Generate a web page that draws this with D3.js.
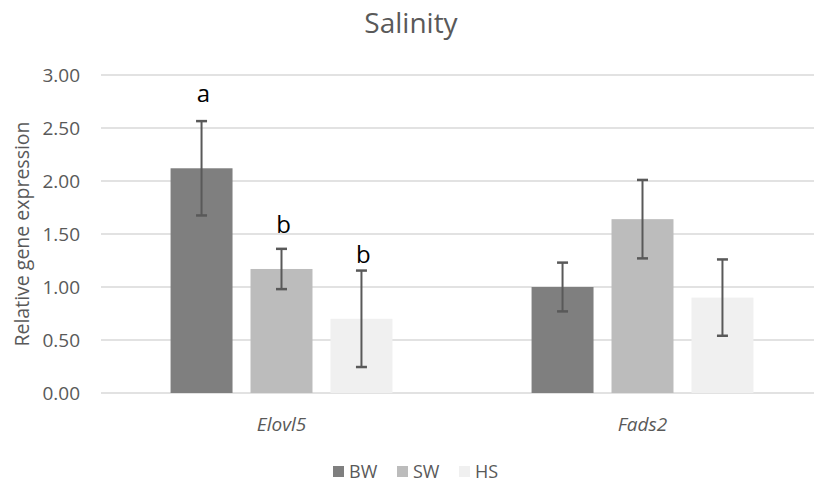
<!DOCTYPE html>
<html>
<head>
<meta charset="utf-8">
<script src="https://cdn.jsdelivr.net/npm/d3@7"></script>
<style>
  body { margin: 0; background: #fff; }
  svg { display: block; font-family: "Open Sans", "Liberation Sans", sans-serif; }
</style>
</head>
<body>
<svg id="chart" width="814" height="484"></svg>
<script>
// Relative expression of two genes under three salinity treatments
const genes = ["Elovl5", "Fads2"];
const groups = ["BW", "SW", "HS"];
const means = {
  BW: [2.12, 1.00],
  SW: [1.17, 1.64],
  HS: [0.70, 0.90]
};
const errors = {
  BW: [0.445, 0.23],
  SW: [0.19, 0.37],
  HS: [0.455, 0.36]
};
// Significance letters for Elovl5 (value where each letter sits)
const letters = ["a", "b", "b"];
const letterAt = [2.75, 1.51, 1.23];
const yTicks = [0, 0.5, 1, 1.5, 2, 2.5, 3];

const colors = { BW: "#7f7f7f", SW: "#bcbcbc", HS: "#f0f0f0" };

const svg = d3.select("#chart");
const m = { left: 101, right: -9, top: 75, bottom: 91 };
const W = 814, H = 484;

const x0 = d3.scaleBand().domain(genes).range([m.left, W - m.right]).paddingInner(0).paddingOuter(0);
const x1 = d3.scaleBand().domain(groups).range([0, x0.bandwidth()]).paddingInner(0.225).paddingOuter(0.87);
const y = d3.scaleLinear().domain([0, 3]).range([H - m.bottom, m.top]);

// gridlines
svg.append("g").selectAll("line").data(yTicks).join("line")
  .attr("x1", m.left).attr("x2", W)
  .attr("y1", d => y(d)).attr("y2", d => y(d))
  .attr("stroke", "#d9d9d9").attr("stroke-width", 1.5);

// y axis labels
const yAxis = d3.axisLeft(y).tickValues(yTicks).tickFormat(d3.format(".2f")).tickSize(0).tickPadding(21);
const yg = svg.append("g").attr("transform", `translate(${m.left},0)`).call(yAxis);
yg.select(".domain").remove();
yg.selectAll("text").attr("fill", "#595959").style("font-size", "19px").style("font-family", "\"Open Sans\", sans-serif");

// bars
const gGene = svg.append("g").selectAll("g").data(genes).join("g")
  .attr("transform", d => `translate(${x0(d)},0)`);

gGene.each(function(gene, gi) {
  const g = d3.select(this);
  groups.forEach(grp => {
    const v = means[grp][gi], e = errors[grp][gi];
    const bx = x1(grp), bw = x1.bandwidth();
    g.append("rect")
      .attr("x", bx).attr("width", bw)
      .attr("y", y(v)).attr("height", y(0) - y(v))
      .attr("fill", colors[grp]);
    const cx = bx + bw / 2;
    g.append("line").attr("x1", cx).attr("x2", cx)
      .attr("y1", y(v + e)).attr("y2", y(v - e))
      .attr("stroke", "#595959").attr("stroke-width", 2);
    [v + e, v - e].forEach(t => {
      g.append("line").attr("x1", cx - 5.5).attr("x2", cx + 5.5)
        .attr("y1", y(t)).attr("y2", y(t))
        .attr("stroke", "#595959").attr("stroke-width", 2.5);
    });
  });
});

// significance letters over Elovl5 bars
svg.append("g").selectAll("text").data(letters).join("text")
  .attr("x", (d, i) => x0(genes[0]) + x1(groups[i]) + x1.bandwidth() / 2 + 2)
  .attr("y", (d, i) => y(letterAt[i]))
  .attr("text-anchor", "middle")
  .attr("fill", "#000")
  .style("font-size", "24px")
  .text(d => d);

// category labels
svg.append("g").selectAll("text").data(genes).join("text")
  .attr("x", d => x0(d) + x0.bandwidth() / 2)
  .attr("y", 431)
  .attr("text-anchor", "middle")
  .attr("fill", "#595959")
  .style("font-size", "19px").style("font-style", "italic")
  .text(d => d);

// title
svg.append("text").attr("x", 411).attr("y", 33).attr("text-anchor", "middle")
  .attr("fill", "#595959").style("font-size", "28px").text("Salinity");

// y axis title
svg.append("text")
  .attr("transform", "translate(29,234) rotate(-90)")
  .attr("text-anchor", "middle")
  .attr("fill", "#595959").style("font-size", "19.5px")
  .text("Relative gene expression");

// legend
const legX = [333, 397, 459];
const leg = svg.append("g").selectAll("g").data(groups).join("g")
  .attr("transform", (d, i) => `translate(${legX[i]},466)`);
leg.append("rect").attr("width", 11).attr("height", 11).attr("fill", d => colors[d]);
leg.append("text").attr("x", 16).attr("y", 12).attr("fill", "#595959")
  .style("font-size", "18px").text(d => d);
</script>
</body>
</html>
